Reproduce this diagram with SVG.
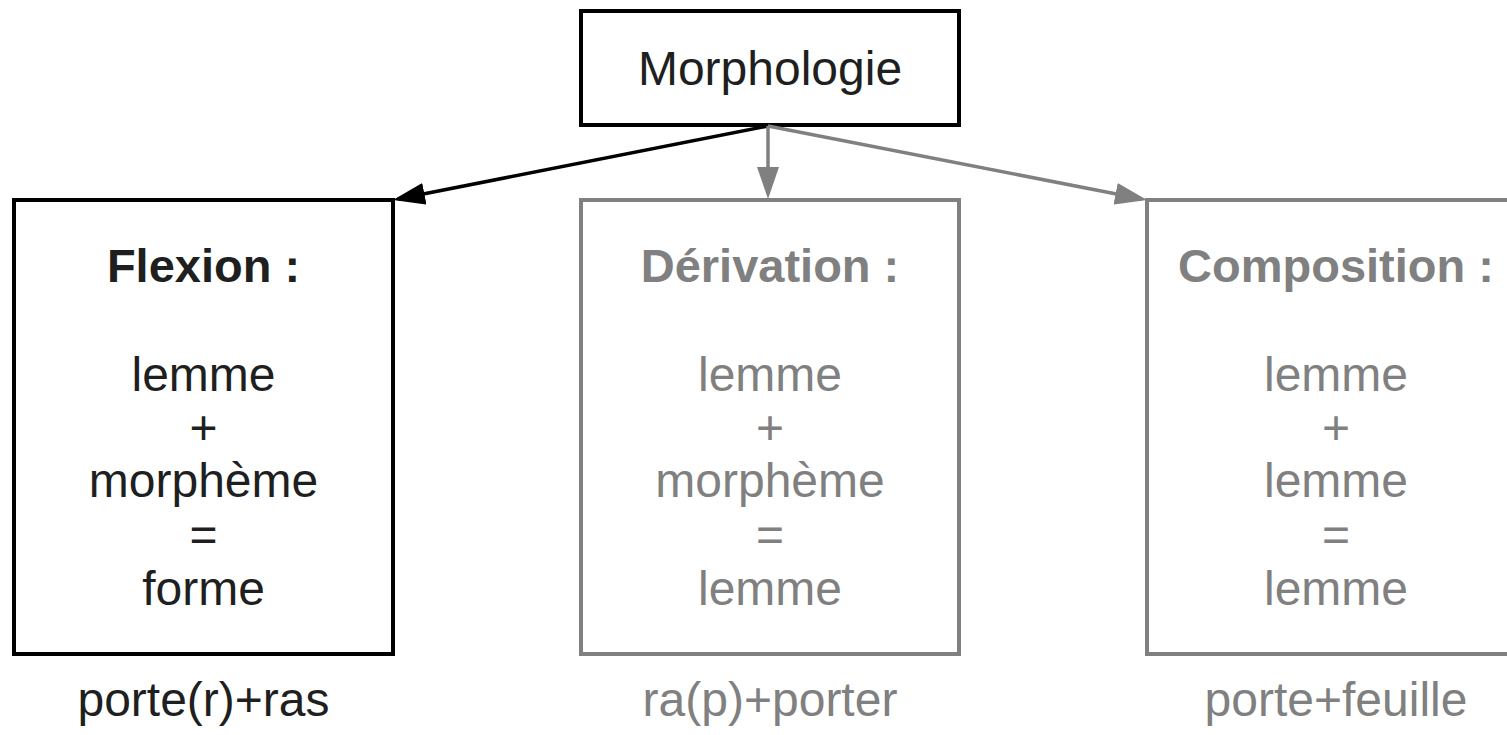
<svg xmlns="http://www.w3.org/2000/svg" width="1507" height="735" viewBox="0 0 1507 735">
  <style>
    text { font-family: "Liberation Sans", Arial, sans-serif; font-size: 48px; text-anchor: middle; }
    .dark { fill: #1f1f1f; }
    .grey { fill: #808080; }
    .head { font-weight: bold; font-size: 47px; }
    .box { fill: #ffffff; stroke-width: 4; }
    .box.dark { stroke: #000000; fill: #ffffff; }
    .box.grey { stroke: #808080; fill: #ffffff; }
    .link { fill: none; stroke-width: 3.5; }
  </style>
  <defs>
    <marker id="arrow-black" markerUnits="userSpaceOnUse" markerWidth="32" markerHeight="22" refX="27" refY="11" orient="auto">
      <path d="M0,0 L32,11 L0,22 z" fill="#000000"/>
    </marker>
    <marker id="arrow-grey" markerUnits="userSpaceOnUse" markerWidth="32" markerHeight="22" refX="27" refY="11" orient="auto">
      <path d="M0,0 L32,11 L0,22 z" fill="#808080"/>
    </marker>
  </defs>
  <rect width="1507" height="735" fill="#ffffff"/>

  <!-- root -->
  <g id="morphologie">
    <rect class="box dark" x="581" y="11" width="378" height="114"/>
    <text class="dark" x="770" y="85">Morphologie</text>
  </g>

  <!-- connectors -->
  <g id="connectors">
    <line class="link" x1="768" y1="126" x2="397.9" y2="199" stroke="#000000" marker-end="url(#arrow-black)"/>
    <line class="link" x1="768" y1="126" x2="768" y2="194" stroke="#808080" marker-end="url(#arrow-grey)"/>
    <line class="link" x1="768" y1="126" x2="1142.1" y2="199" stroke="#808080" marker-end="url(#arrow-grey)"/>
  </g>

  <g id="flexion">
    <rect class="box dark" x="14" y="200" width="379" height="454"/>
    <text class="dark head" x="203.5" y="282">Flexion :</text>
    <text class="dark" x="203.5" y="391">lemme</text>
    <text class="dark" x="203.5" y="444">+</text>
    <text class="dark" x="203.5" y="497">morphème</text>
    <text class="dark" x="203.5" y="551">=</text>
    <text class="dark" x="203.5" y="605">forme</text>
  </g>
  <g id="flexion-example">
    <text class="dark" x="203.5" y="716">porte(r)+ras</text>
  </g>

  <g id="derivation">
    <rect class="box grey" x="581" y="200" width="378" height="454"/>
    <text class="grey head" x="770" y="282">Dérivation :</text>
    <text class="grey" x="770" y="391">lemme</text>
    <text class="grey" x="770" y="444">+</text>
    <text class="grey" x="770" y="497">morphème</text>
    <text class="grey" x="770" y="551">=</text>
    <text class="grey" x="770" y="605">lemme</text>
  </g>
  <g id="derivation-example">
    <text class="grey" x="770" y="716">ra(p)+porter</text>
  </g>

  <g id="composition">
    <rect class="box grey" x="1147" y="200" width="379" height="454"/>
    <text class="grey head" x="1336" y="282">Composition :</text>
    <text class="grey" x="1336" y="391">lemme</text>
    <text class="grey" x="1336" y="444">+</text>
    <text class="grey" x="1336" y="497">lemme</text>
    <text class="grey" x="1336" y="551">=</text>
    <text class="grey" x="1336" y="605">lemme</text>
  </g>
  <g id="composition-example">
    <text class="grey" x="1336" y="716">porte+feuille</text>
  </g>
</svg>
